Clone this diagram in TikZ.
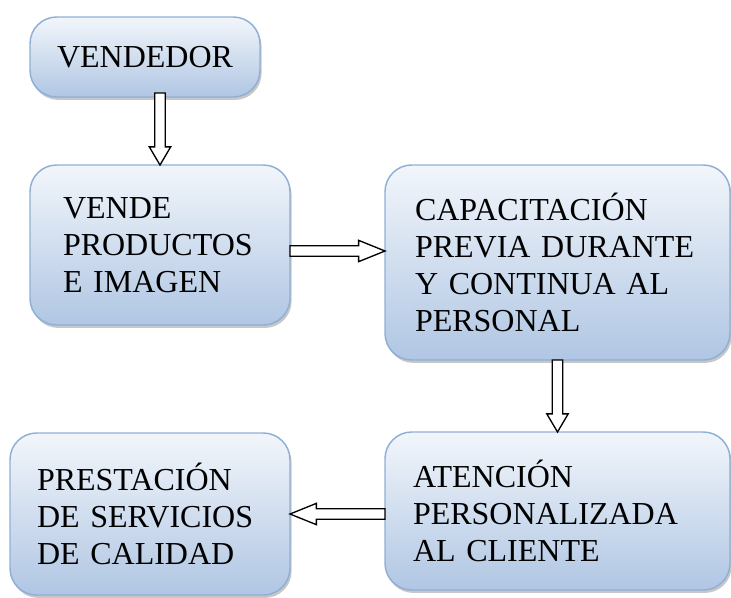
\documentclass[tikz,border=0pt]{standalone}
\usepackage{fontspec}
\setmainfont{Liberation Serif}
\usepackage{xcolor}
\usetikzlibrary{shapes.arrows,shadows,positioning,calc}

\definecolor{boxtop}{RGB}{242,246,251}
\definecolor{boxbot}{RGB}{176,198,227}
\definecolor{boxline}{RGB}{143,175,213}

\begin{document}
\begin{tikzpicture}[
    x=0.75pt, y=-0.75pt,
    box/.style={rectangle, rounded corners=20pt, draw=boxline, line width=1.1pt, top color=boxtop, bottom color=boxbot, drop shadow={shadow xshift=1.2pt, shadow yshift=-2.2pt, opacity=0.4, fill=black!55}, font=\fontsize{24}{27.75}\selectfont, align=left, inner xsep=0pt, inner ysep=0pt, outer sep=0pt},
    blockarrow/.style={single arrow, draw=black, fill=white, line width=1pt, inner xsep=0pt, inner ysep=3.4pt, text height=0pt, text depth=0pt, single arrow head extend=4.1pt, minimum width=15pt, outer sep=0pt, sloped, allow upside down, pos=0, anchor=tail, minimum height=#1},
    varrow/.style={blockarrow=#1, single arrow tip angle=61},
    harrow/.style={blockarrow=#1, single arrow tip angle=44}
  ]
    \useasboundingbox (0,0) rectangle (731,597);

    % --- BOXES ---
    \node[box, align=center, minimum width=172.5pt, minimum height=60pt] (vendedor) at (145,57) {VENDEDOR};
    \node[box, text width=145.5pt, minimum width=195pt, minimum height=120pt] (vende) at (160,245) {VENDE\\ PRODUCTOS\\ E~IMAGEN};
    \node[box, text width=213.75pt, minimum width=258.75pt, minimum height=146.25pt] (capacita) at (557.5,262.5) {CAPACITACIÓN\\ PREVIA~DURANTE\\ Y~CONTINUA~AL\\ PERSONAL};
    \node[box, text width=216.75pt, minimum width=258.75pt, minimum height=118.5pt] (atencion) at (557.5,511) {ATENCIÓN\\ PERSONALIZADA\\ AL~CLIENTE};
    \node[box, text width=169.5pt, minimum width=210pt, minimum height=121.5pt] (prestacion) at (150,514) {PRESTACIÓN\\ DE~SERVICIOS\\ DE~CALIDAD};

    % --- ARROWS ---
    \path ([yshift=3pt]vendedor.south -| vende.north) -- node[varrow=54pt] (a1) {} (vende.north);
    \path ([yshift=-4.5pt]vende.east) -- node[harrow=71.25pt] (a2) {} ([yshift=-4.5pt]vende.east -| capacita.west);
    \path (capacita.south) -- node[varrow=54pt] (a3) {} (atencion.north);
    \path (atencion.west |- prestacion.east) -- node[harrow=71.25pt] (a4) {} (prestacion.east);
\end{tikzpicture}
\end{document}
